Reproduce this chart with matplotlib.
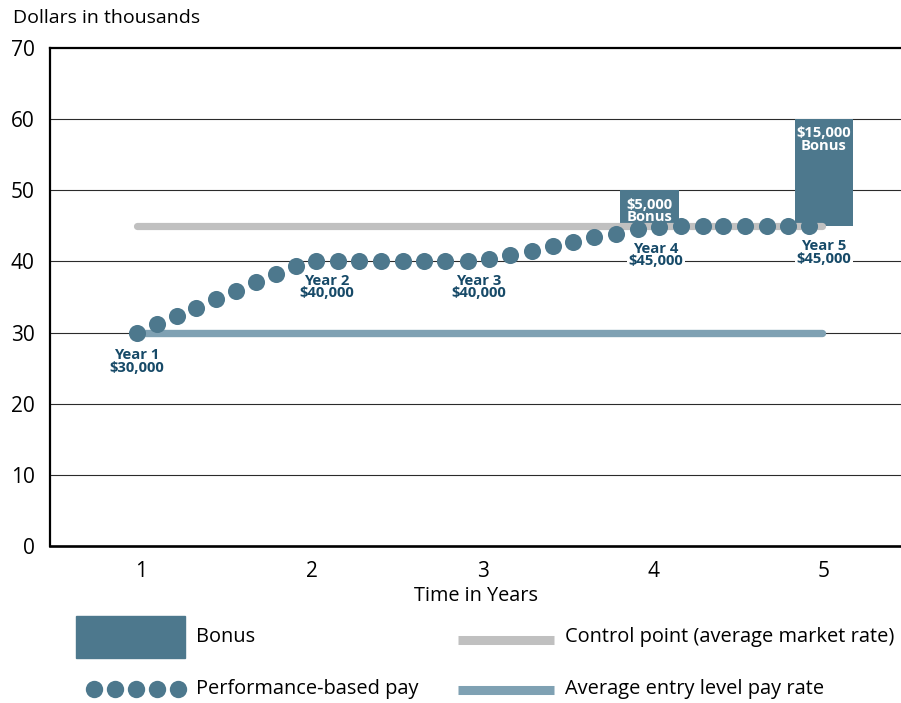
import matplotlib
matplotlib.use("Agg")
import matplotlib.pyplot as plt
from matplotlib.patches import Rectangle

plt.rcParams['font.family'] = ['Open Sans', 'DejaVu Sans']

# ---- data -------------------------------------------------------------
years = [1, 2, 3, 4, 5]
y_ticks = [0, 10, 20, 30, 40, 50, 60, 70]

# performance-based pay: time in years and pay in thousands of dollars
pay_x = [0.975, 1.092, 1.209, 1.322, 1.439, 1.556, 1.673, 1.791, 1.908,
         2.025, 2.152, 2.278, 2.406, 2.533, 2.657, 2.783, 2.913,
         3.040, 3.161, 3.288, 3.411, 3.532, 3.655, 3.782, 3.909,
         4.035, 4.163, 4.290, 4.410, 4.537, 4.664, 4.787, 4.914]
pay_values = [30.0, 31.2, 32.3, 33.5, 34.7, 35.9, 37.1, 38.2, 39.4,
              40.0, 40.0, 40.0, 40.0, 40.0, 40.0, 40.0, 40.0,
              40.4, 40.9, 41.5, 42.1, 42.7, 43.4, 43.9, 44.5,
              44.8, 45.0, 45.0, 45.0, 45.0, 45.0, 45.0, 45.0]

control_point = 45      # average market rate
entry_rate = 30         # average entry level pay rate
line_span = [0.975, 4.99]

bonus_years = [3.98, 5.0]
bonus_base = [45, 45]
bonus_amounts = [5, 15]
bonus_labels = ["$5,000\nBonus", "$15,000\nBonus"]

milestone_labels = ["Year 1\n$30,000", "Year 2\n$40,000", "Year 3\n$40,000",
                    "Year 4\n$45,000", "Year 5\n$45,000"]

# ---- styling ----------------------------------------------------------
BAR_C = "#4d788d"
DOT_C = "#4d788d"
GRAY_C = "#c0c0c0"
ENTRY_C = "#7fa1b3"
LABEL_C = "#174a68"

milestone_x = [0.977, 2.09, 2.98, 4.016, 5.0]
milestone_y = [25.9, 36.4, 36.4, 40.9, 41.3]

fig = plt.figure(figsize=(9.01, 7.03), dpi=100)
ax = fig.add_axes([50 / 901, 1 - 546 / 703, 1 - 50 / 901, (546 - 48) / 703])

ax.set_xlim(0.467, 5.451)
ax.set_ylim(0, 70)

# grid lines
for v in y_ticks[1:-1]:
    ax.axhline(v, color="#2b2b2b", lw=0.8, zorder=1)
ax.axhline(70, color="black", lw=1.6, zorder=1, clip_on=False)

for side in ["right", "top"]:
    ax.spines[side].set_visible(False)
ax.spines["left"].set_linewidth(1.6)
ax.spines["bottom"].set_linewidth(1.9)

ax.set_yticks(y_ticks)
ax.set_xticks(years)
ax.tick_params(axis="both", length=0, labelsize=15)
ax.tick_params(axis="y", pad=11)
ax.tick_params(axis="x", pad=11)
ax.set_xlabel("Time in Years", fontsize=14.3, labelpad=3)

# bonus bars
ax.bar(bonus_years, bonus_amounts, bottom=bonus_base, width=0.345,
       color=BAR_C, zorder=2)
for bx, b0, amt, txt in zip(bonus_years, bonus_base, bonus_amounts, bonus_labels):
    ax.text(bx, b0 + amt - 2.9, txt, ha="center", va="center", color="white",
            fontsize=10.6, fontweight="bold", linespacing=0.88, zorder=6)

# reference lines
ax.plot(line_span, [control_point] * 2, color=GRAY_C, lw=5.2,
        solid_capstyle="round", zorder=3)
ax.plot(line_span, [entry_rate] * 2, color=ENTRY_C, lw=5.3,
        solid_capstyle="round", zorder=3)

# performance-based pay dots
ax.plot(pay_x, pay_values, linestyle="none", marker="o", markersize=12.3,
        markerfacecolor=DOT_C, markeredgewidth=0, zorder=4)

# milestone labels
for i, (mx, my, txt) in enumerate(zip(milestone_x, milestone_y, milestone_labels)):
    kw = {}
    if i >= 3:
        kw["bbox"] = dict(facecolor="white", edgecolor="none", pad=1.5)
    ax.text(mx, my, txt, ha="center", va="center", color=LABEL_C,
            fontsize=10.7, fontweight="bold", linespacing=0.88, zorder=5, **kw)

fig.text(13 / 901, 1 - 18 / 703, "Dollars in thousands", ha="left",
         va="center", fontsize=14)

# ---- legend (pixel-space overlay) ----------------------------------------
lg = fig.add_axes([0, 0, 1, 1], facecolor="none")
lg.set_xlim(0, 901)
lg.set_ylim(703, 0)
lg.axis("off")

LEG_FS = 14.4
lg.add_patch(Rectangle((76, 616), 109, 42, color=BAR_C))
lg.text(196, 637, "Bonus", va="center", ha="left", fontsize=LEG_FS)

lg.plot([94, 115, 136, 157, 178], [689] * 5, linestyle="none", marker="o",
        markersize=12.5, markerfacecolor=DOT_C, markeredgewidth=0)
lg.text(196, 689, "Performance-based pay", va="center", ha="left",
        fontsize=LEG_FS)

lg.plot([458, 554], [640, 640], color=GRAY_C, lw=6.5, solid_capstyle="butt")
lg.text(565, 637, "Control point (average market rate)", va="center",
        ha="left", fontsize=LEG_FS)

lg.plot([458, 554], [690, 690], color=ENTRY_C, lw=6.5, solid_capstyle="butt")
lg.text(565, 689, "Average entry level pay rate", va="center", ha="left",
        fontsize=LEG_FS)

fig.savefig("out.png", dpi=100)
